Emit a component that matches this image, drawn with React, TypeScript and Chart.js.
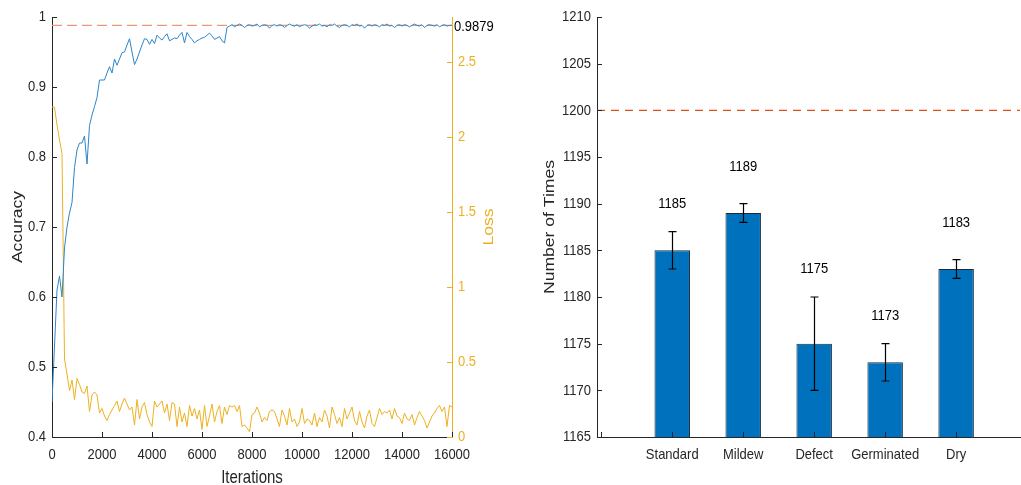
import React, { useEffect, useRef } from 'react';
import { Chart, registerables } from 'chart.js';

Chart.register(...registerables);

const FONT_FAMILY = "'Liberation Sans', Arial, sans-serif";
const V_STRETCH = 1.17;

// ---------- Left chart data (sampled every 100 iterations) ----------
const ITER_STEP = 100;
const ACCURACY = [
  0.45, 0.53, 0.61, 0.63, 0.60, 0.67, 0.70, 0.72, 0.735, 0.785,
  0.81, 0.82, 0.82, 0.83, 0.79, 0.845, 0.86, 0.872, 0.885, 0.91,
  0.91, 0.91, 0.92, 0.929, 0.92, 0.94, 0.931, 0.94, 0.949, 0.95,
  0.96, 0.969, 0.95, 0.932, 0.94, 0.95, 0.96, 0.969, 0.968, 0.961,
  0.968, 0.962, 0.974, 0.97, 0.967, 0.972, 0.976, 0.966, 0.968, 0.97,
  0.969, 0.974, 0.978, 0.963, 0.978, 0.972, 0.968, 0.963, 0.966, 0.968,
  0.97, 0.971, 0.974, 0.977, 0.973, 0.968, 0.97, 0.972, 0.966, 0.963,
  0.985, 0.987, 0.989, 0.986, 0.988, 0.99, 0.988, 0.985, 0.988, 0.989,
  0.987, 0.988, 0.99, 0.986, 0.988, 0.989, 0.988, 0.984, 0.988, 0.989,
  0.987, 0.989, 0.988, 0.985, 0.988, 0.99, 0.988, 0.987, 0.989, 0.986,
  0.988, 0.989, 0.988, 0.984, 0.987, 0.989, 0.988, 0.99, 0.987, 0.988,
  0.986, 0.989, 0.988, 0.99, 0.987, 0.985, 0.988, 0.989, 0.988, 0.986,
  0.989, 0.988, 0.99, 0.987, 0.988, 0.984, 0.988, 0.989, 0.987, 0.989,
  0.988, 0.986, 0.989, 0.988, 0.99, 0.987, 0.988, 0.985, 0.988, 0.989,
  0.987, 0.989, 0.988, 0.986, 0.988, 0.99, 0.988, 0.987, 0.989, 0.985,
  0.988, 0.989, 0.988, 0.987, 0.989, 0.986, 0.988, 0.989, 0.987, 0.988,
  0.988,
];
const LOSS = [
  2.2, 2.2, 2.08, 1.98, 1.89, 0.52, 0.42, 0.31, 0.38, 0.25,
  0.39, 0.35, 0.30, 0.29, 0.34, 0.17, 0.28, 0.30, 0.28, 0.16,
  0.19, 0.14, 0.11, 0.15, 0.18, 0.21, 0.24, 0.17, 0.22, 0.26,
  0.22, 0.18, 0.20, 0.08, 0.25, 0.12, 0.20, 0.23, 0.15, 0.10,
  0.07, 0.24, 0.20, 0.22, 0.24, 0.16, 0.22, 0.11, 0.23, 0.22,
  0.07, 0.20, 0.10, 0.16, 0.07, 0.21, 0.14, 0.19, 0.12, 0.18,
  0.05, 0.21, 0.07, 0.14, 0.22, 0.10, 0.17, 0.21, 0.09, 0.20,
  0.15, 0.21, 0.20, 0.21, 0.17, 0.21, 0.07, 0.08, 0.06, 0.035,
  0.15, 0.16, 0.20, 0.16, 0.10, 0.13, 0.11, 0.17, 0.18, 0.17,
  0.12, 0.07, 0.18, 0.14, 0.08, 0.19, 0.10, 0.12, 0.07, 0.10,
  0.19, 0.09, 0.12, 0.11, 0.08, 0.16, 0.07, 0.13, 0.10, 0.18,
  0.14, 0.06, 0.20, 0.15, 0.09, 0.13, 0.07, 0.19, 0.12, 0.16,
  0.20, 0.11, 0.08, 0.17, 0.10, 0.06, 0.14, 0.18, 0.09, 0.07,
  0.13, 0.19, 0.15, 0.17, 0.16, 0.18, 0.12, 0.19, 0.14, 0.13,
  0.09, 0.16, 0.12, 0.11, 0.15, 0.08, 0.13, 0.17, 0.14, 0.11,
  0.06, 0.10, 0.14, 0.16, 0.19, 0.21, 0.17, 0.20, 0.07, 0.21,
  0.20,
];
const ITERATIONS = ACCURACY.map((_, i) => i * ITER_STEP);
const ACC_FINAL = 0.9879;
const ITER_TICKS = [0, 2000, 4000, 6000, 8000, 10000, 12000, 14000, 16000];
const ACC_TICKS = [0.4, 0.5, 0.6, 0.7, 0.8, 0.9, 1];
const LOSS_TICKS = [0, 0.5, 1, 1.5, 2, 2.5];

// ---------- Right chart data ----------
const CATEGORIES = ['Standard', 'Mildew', 'Defect', 'Germinated', 'Dry'];
const COUNTS = [1185, 1189, 1175, 1173, 1183];
const ERR_LOW = [1183, 1188, 1170, 1171, 1182];
const ERR_HIGH = [1187, 1190, 1180, 1175, 1184];
const TOTAL = 1200;
const COUNT_TICKS = [1165, 1170, 1175, 1180, 1185, 1190, 1195, 1200, 1205, 1210];

const AXIS_COLOR = '#262626';
const LOSS_COLOR = '#EDB120';
const ACC_COLOR = '#2b86ca';
const REF_COLOR = '#D95319';
const REF_LIGHT = '#EC9874';
const BAR_COLOR = '#0072BD';
const TICK_SIZE = 13;
const TITLE_SIZE = 15;

function drawText(ctx: CanvasRenderingContext2D, text: string, x: number, y: number, opts: { size?: number; color?: string; align?: CanvasTextAlign; rotate?: number }) {
  ctx.save();
  ctx.translate(x, y);
  ctx.scale(1, V_STRETCH);
  if (opts.rotate) ctx.rotate(opts.rotate);
  ctx.font = `${opts.size ?? TICK_SIZE}px ${FONT_FAMILY}`;
  ctx.fillStyle = opts.color ?? AXIS_COLOR;
  ctx.textAlign = opts.align ?? 'center';
  ctx.textBaseline = 'middle';
  ctx.fillText(text, 0, 0);
  ctx.restore();
}

// inward tick marks + tick labels for one axis
function drawAxisTicks(ctx: CanvasRenderingContext2D, chart: any, axisId: string, color: string, format: (v: number) => string) {
  const scale = chart.scales[axisId];
  const a = chart.chartArea;
  const len = 5;
  ctx.save();
  ctx.strokeStyle = color;
  ctx.lineWidth = 1;
  ctx.beginPath();
  for (const t of scale.ticks) {
    const p = scale.getPixelForValue(t.value);
    if (scale.isHorizontal()) {
      const px = Math.round(p) + 0.5;
      ctx.moveTo(px, a.bottom);
      ctx.lineTo(px, a.bottom - len);
    } else {
      const py = Math.round(p) + 0.5;
      if (scale.position === 'left') {
        ctx.moveTo(a.left, py);
        ctx.lineTo(a.left + len, py);
      } else {
        ctx.moveTo(a.right, py);
        ctx.lineTo(a.right - len, py);
      }
    }
  }
  ctx.stroke();
  ctx.restore();
  for (const t of scale.ticks) {
    const p = scale.getPixelForValue(t.value);
    const label = format(t.value);
    if (!label) continue;
    if (scale.isHorizontal()) {
      drawText(ctx, label, p, a.bottom + 18, { color });
    } else if (scale.position === 'left') {
      drawText(ctx, label, a.left - 6, p, { color, align: 'right' });
    } else {
      drawText(ctx, label, a.right + 6, p, { color, align: 'left' });
    }
  }
}

const leftDeco = {
  id: 'leftDeco',
  beforeDatasetsDraw(chart: any) {
    const { ctx, chartArea: a, scales } = chart;
    const y = scales.y.getPixelForValue(ACC_FINAL);
    ctx.save();
    ctx.strokeStyle = REF_LIGHT;
    ctx.lineWidth = 1.2;
    ctx.setLineDash([10, 5]);
    ctx.beginPath();
    ctx.moveTo(a.left, y);
    ctx.lineTo(a.right, y);
    ctx.stroke();
    ctx.restore();
  },
  afterDraw(chart: any) {
    const { ctx, chartArea: a, scales } = chart;
    drawAxisTicks(ctx, chart, 'x', AXIS_COLOR, (v) => String(v));
    drawAxisTicks(ctx, chart, 'y', AXIS_COLOR, (v) => String(Math.round(v * 10) / 10));
    drawAxisTicks(ctx, chart, 'y1', LOSS_COLOR, (v) => String(v));
    drawText(ctx, String(ACC_FINAL), a.right + 2, scales.y.getPixelForValue(ACC_FINAL) + 1, { align: 'left', color: '#000' });
    drawText(ctx, 'Iterations', (a.left + a.right) / 2, a.bottom + 41, { size: TITLE_SIZE });
    drawText(ctx, 'Accuracy', a.left - 34, (a.top + a.bottom) / 2, { size: TITLE_SIZE, rotate: -Math.PI / 2 });
    drawText(ctx, 'Loss', a.right + 37, (a.top + a.bottom) / 2, { size: TITLE_SIZE, rotate: -Math.PI / 2, color: LOSS_COLOR });
  },
};

const rightDeco = {
  id: 'rightDeco',
  afterDatasetsDraw(chart: any) {
    const { ctx, chartArea: a, scales } = chart;
    const xs = scales.x;
    const ys = scales.y;
    const yRef = ys.getPixelForValue(TOTAL);
    ctx.save();
    ctx.strokeStyle = REF_COLOR;
    ctx.lineWidth = 1.2;
    ctx.setLineDash([8, 6]);
    ctx.beginPath();
    ctx.moveTo(a.left, yRef);
    ctx.lineTo(a.right, yRef);
    ctx.stroke();
    ctx.restore();
    ctx.save();
    ctx.strokeStyle = '#000';
    ctx.lineWidth = 1.2;
    for (let i = 0; i < COUNTS.length; i++) {
      const x = Math.round(xs.getPixelForValue(i + 1)) + 0.5;
      const yl = ys.getPixelForValue(ERR_LOW[i]);
      const yh = ys.getPixelForValue(ERR_HIGH[i]);
      ctx.beginPath();
      ctx.moveTo(x, yl);
      ctx.lineTo(x, yh);
      ctx.moveTo(x - 4, yl);
      ctx.lineTo(x + 4, yl);
      ctx.moveTo(x - 4, yh);
      ctx.lineTo(x + 4, yh);
      ctx.stroke();
    }
    ctx.restore();
    for (let i = 0; i < COUNTS.length; i++) {
      const x = xs.getPixelForValue(i + 1);
      const yv = Math.max(COUNTS[i] + 5, ERR_HIGH[i] + 3);
      drawText(ctx, String(COUNTS[i]), x, ys.getPixelForValue(yv), { color: '#000' });
    }
  },
  afterDraw(chart: any) {
    const { ctx, chartArea: a } = chart;
    drawAxisTicks(ctx, chart, 'x', AXIS_COLOR, (v) => CATEGORIES[v - 1] ?? '');
    drawAxisTicks(ctx, chart, 'y', AXIS_COLOR, (v) => String(v));
    drawText(ctx, 'Number of Times', a.left - 47, (a.top + a.bottom) / 2, { size: TITLE_SIZE, rotate: -Math.PI / 2 });
  },
};

const hiddenTicks = { display: false };
const bareGrid = { drawOnChartArea: false, drawTicks: false };

function LeftChart() {
  const ref = useRef<HTMLCanvasElement>(null);
  useEffect(() => {
    if (!ref.current) return;
    const chart = new Chart(ref.current, {
      type: 'line',
      data: {
        datasets: [
          {
            label: 'Accuracy',
            data: ITERATIONS.map((x, i) => ({ x, y: ACCURACY[i] })),
            yAxisID: 'y',
            borderColor: ACC_COLOR,
            borderWidth: 1,
            pointRadius: 0,
            tension: 0,
            fill: false,
          },
          {
            label: 'Loss',
            data: ITERATIONS.map((x, i) => ({ x, y: LOSS[i] })),
            yAxisID: 'y1',
            borderColor: LOSS_COLOR,
            borderWidth: 1,
            pointRadius: 0,
            tension: 0,
            fill: false,
          },
        ],
      },
      options: {
        animation: false,
        responsive: false,
        events: [],
        layout: { padding: { top: 17, left: 0, right: 0, bottom: 0 } },
        plugins: { legend: { display: false }, tooltip: { enabled: false } },
        scales: {
          x: {
            type: 'linear',
            min: 0,
            max: 16000,
            afterBuildTicks: (s: any) => { s.ticks = ITER_TICKS.map((v) => ({ value: v })); },
            afterFit: (s: any) => { s.height = 48; },
            ticks: hiddenTicks,
            grid: bareGrid,
            border: { color: AXIS_COLOR, width: 1 },
          },
          y: {
            type: 'linear',
            position: 'left',
            min: 0.4,
            max: 1,
            afterBuildTicks: (s: any) => { s.ticks = ACC_TICKS.map((v) => ({ value: v })); },
            afterFit: (s: any) => { s.width = 52; },
            ticks: hiddenTicks,
            grid: bareGrid,
            border: { color: AXIS_COLOR, width: 1 },
          },
          y1: {
            type: 'linear',
            position: 'right',
            min: 0,
            max: 2.8,
            afterBuildTicks: (s: any) => { s.ticks = LOSS_TICKS.map((v) => ({ value: v })); },
            afterFit: (s: any) => { s.width = 58; },
            ticks: hiddenTicks,
            grid: bareGrid,
            border: { color: LOSS_COLOR, width: 1 },
          },
        },
      },
      plugins: [leftDeco],
    } as any);
    return () => chart.destroy();
  }, []);
  return <canvas ref={ref} width={510} height={485} style={{ position: 'absolute', left: 0, top: 0, display: 'block' }} />;
}

function RightChart() {
  const ref = useRef<HTMLCanvasElement>(null);
  useEffect(() => {
    if (!ref.current) return;
    const chart = new Chart(ref.current, {
      type: 'bar',
      data: {
        datasets: [
          {
            label: 'Number of Times',
            data: COUNTS.map((y, i) => ({ x: i + 1, y })),
            backgroundColor: BAR_COLOR,
            borderColor: '#1c2b3a',
            borderWidth: 1,
            barPercentage: 0.5,
            categoryPercentage: 1,
          },
        ],
      },
      options: {
        animation: false,
        responsive: false,
        events: [],
        layout: { padding: { top: 17, left: 0, right: 1, bottom: 0 } },
        plugins: { legend: { display: false }, tooltip: { enabled: false } },
        scales: {
          x: {
            type: 'linear',
            offset: false,
            min: -0.06,
            max: 5.9,
            afterBuildTicks: (s: any) => { s.ticks = [0, 1, 2, 3, 4, 5].map((v) => ({ value: v })); },
            afterFit: (s: any) => { s.height = 48; },
            ticks: hiddenTicks,
            grid: { ...bareGrid, offset: false },
            border: { color: AXIS_COLOR, width: 1 },
          },
          y: {
            type: 'linear',
            min: 1165,
            max: 1210,
            afterBuildTicks: (s: any) => { s.ticks = COUNT_TICKS.map((v) => ({ value: v })); },
            afterFit: (s: any) => { s.width = 87; },
            ticks: hiddenTicks,
            grid: bareGrid,
            border: { color: AXIS_COLOR, width: 1 },
          },
        },
      },
      plugins: [rightDeco],
    } as any);
    return () => chart.destroy();
  }, []);
  return <canvas ref={ref} width={511} height={485} style={{ position: 'absolute', left: 510, top: 0, display: 'block' }} />;
}

export default function App() {
  return (
    <div style={{ position: 'absolute', left: 0, top: 0, width: 1021, height: 485, background: '#fff' }}>
      <LeftChart />
      <RightChart />
    </div>
  );
}
